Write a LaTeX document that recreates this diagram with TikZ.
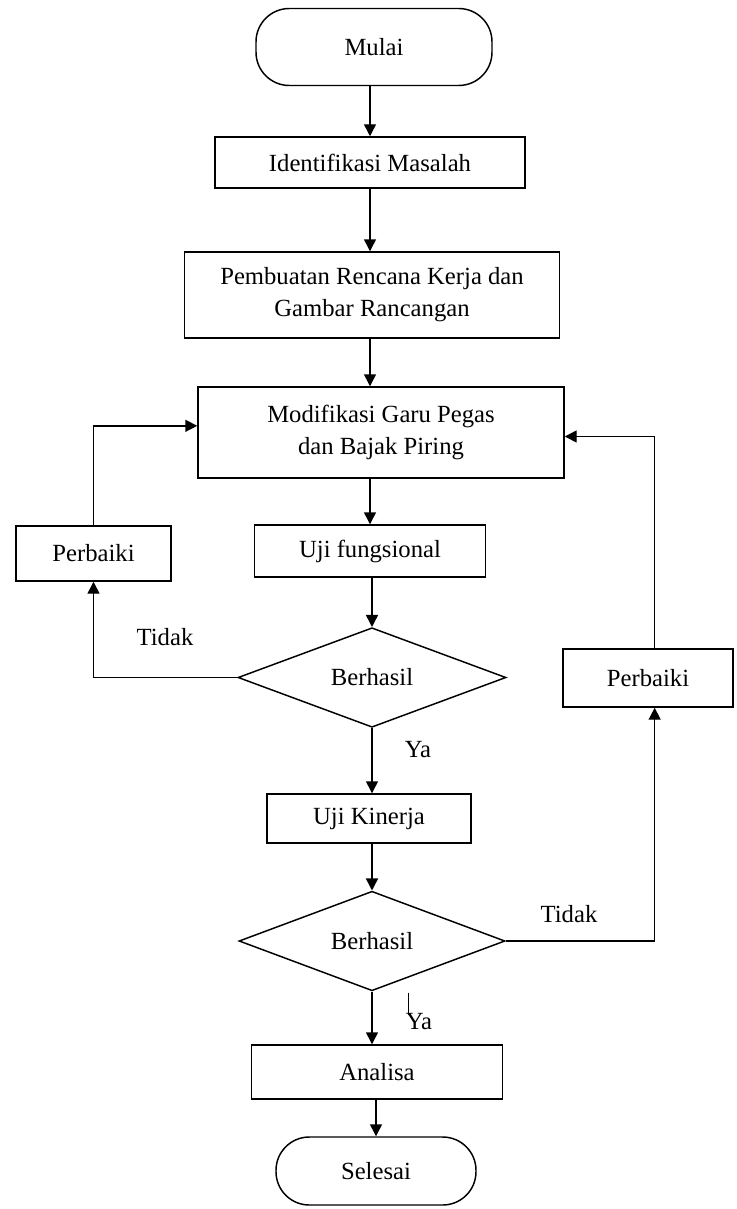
\documentclass[tikz,border=0pt]{standalone}
\usepackage{fontspec}
\setmainfont{Liberation Serif}
\usetikzlibrary{shapes.geometric,arrows.meta}

\begin{document}
\begin{tikzpicture}[x=0.75pt,y=-0.75pt,
    font=\fontsize{18.5}{24}\selectfont,
    box/.style={draw,line width=1.1pt,rectangle,inner sep=0pt,align=center},
    terminal/.style={box,rounded corners=25pt},
    decision/.style={draw,line width=1.1pt,diamond,inner sep=0pt},
    arrow/.style={line width=1.1pt,-{Triangle[length=9pt,width=9pt]}},
    line/.style={line width=1.1pt}]
            \def\px{0.75pt}
            \useasboundingbox (0,0) rectangle (736,1209);
            % main column
            \node[terminal,minimum width=236*\px,minimum height=77*\px] (mulai) at (374,47) {Mulai};
            \node[box,minimum width=310*\px,minimum height=51*\px] (iden) at (370,162.5) {Identifikasi Masalah};
            \node[box,minimum width=375*\px,minimum height=86*\px] (buat) at (372,295) {Pembuatan Rencana Kerja dan\\Gambar Rancangan};
            \node[box,minimum width=366*\px,minimum height=91*\px] (modif) at (381,432.5) {Modifikasi Garu Pegas\\dan Bajak Piring};
            \node[box,minimum width=231*\px,minimum height=52*\px] (uji1) at (370,551) {Uji fungsional};
            \node[decision,minimum width=268*\px,minimum height=91*\px] (cek1) at (372,677.5) {Berhasil};
            \node[box,minimum width=204*\px,minimum height=49*\px] (uji2) at (369,818.5) {Uji Kinerja};
            \node[decision,minimum width=266*\px,minimum height=94*\px] (cek2) at (372,941) {Berhasil};
            \node[box,minimum width=251*\px,minimum height=54*\px] (analisa) at (377,1072) {Analisa};
            \node[terminal,minimum width=200*\px,minimum height=68*\px] (selesai) at (376,1171) {Selesai};
            % side boxes
            \node[box,minimum width=155*\px,minimum height=55*\px] (perb1) at (93.5,553.5) {Perbaiki};
            \node[box,minimum width=170*\px,minimum height=58*\px] (perb2) at (648,678) {Perbaiki};
            % labels
            \node (tidak1) at (165,637) {Tidak};
            \node (ya1) at (418,750) {Ya};
            \node (ya2) at (419,1022) {Ya};
            \node (tidak2) at (569,914) {Tidak};
            
            \draw[arrow] (iden.north |- mulai.south) -- (iden.north);
            \draw[arrow] (iden.south) -- (iden.south |- buat.north);
            \draw[arrow] (iden.south |- buat.south) -- (iden.south |- modif.north);
            \draw[arrow] (uji1.north |- modif.south) -- (uji1.north);
            \draw[arrow] (uji1.south -| cek1.north) -- (cek1.north);
            \draw[arrow] (cek1.south) -- (cek1.south |- uji2.north);
            \draw[arrow] (cek2.north |- uji2.south) -- (cek2.north);
            \draw[arrow] (cek2.south) -- (cek2.south |- analisa.north);
            \draw[arrow] (selesai.north |- analisa.south) -- (selesai.north);
            % Tidak loops
            \draw[arrow] (cek1.west) -| (perb1.south);
            \draw[arrow] (perb1.north) |- ([yshift=5pt]modif.west);
            \draw[arrow] (cek2.east) -| ([xshift=5pt]perb2.south);
            \draw[arrow] ([xshift=5pt]perb2.north) |- ([yshift=-3pt]modif.east);
            \draw[line] ([xshift=-8pt,yshift=22pt]ya2.center) -- ([xshift=-8pt,yshift=5pt]ya2.center);
        \end{tikzpicture}
\end{document}
